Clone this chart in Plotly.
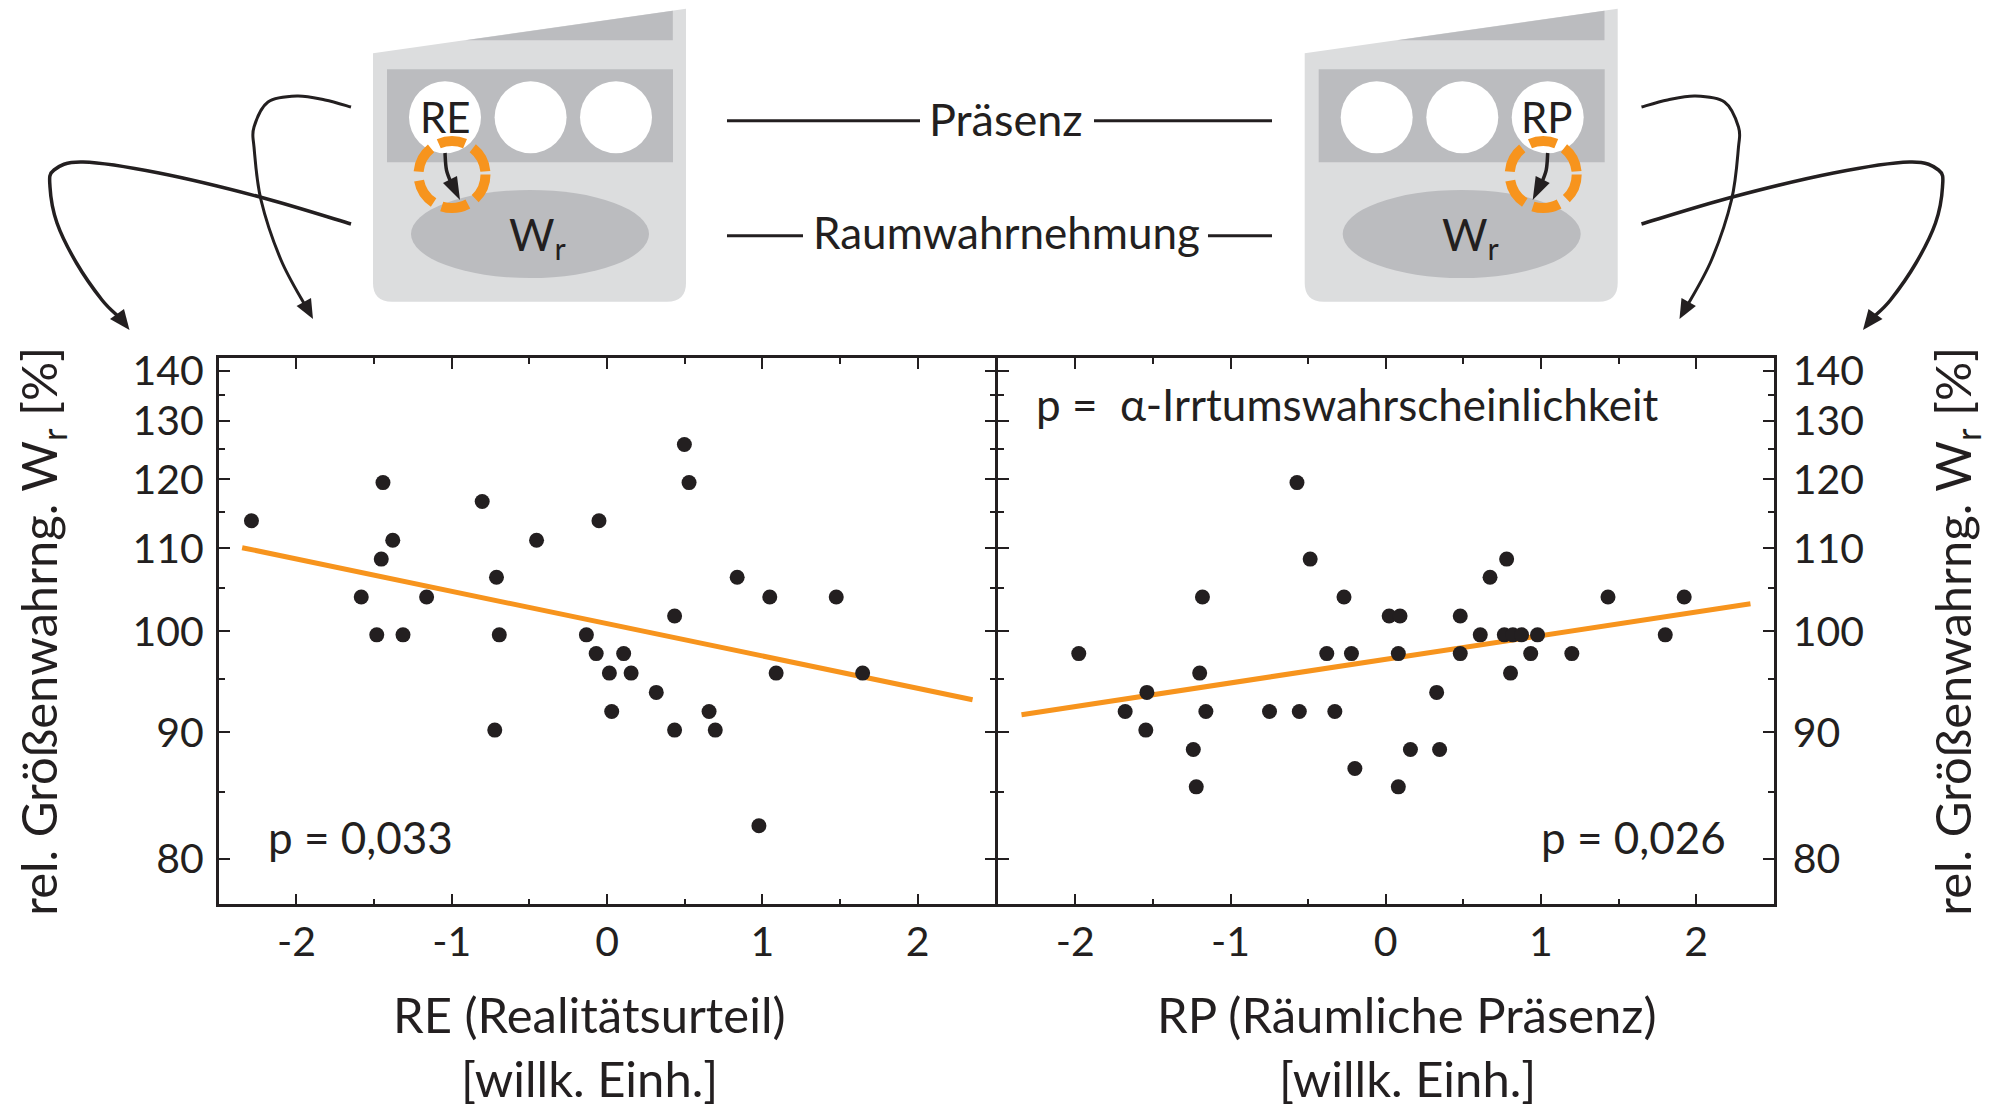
import plotly.graph_objects as go

W, H = 2004, 1106
FONT = "Lato"
INK = "#231f20"
ORANGE = "#f7941d"
LIGHT = "#dcddde"
DARK = "#bbbcbf"

re_x = [-2.29,-1.443,-1.38,-1.454,-1.583,-1.162,-1.483,-1.314,-0.804,-0.712,-0.694,-0.723,-0.454,-0.052,-0.133,-0.07,0.107,0.015,0.155,0.03,0.317,0.435,0.435,0.498,0.528,0.657,0.697,0.838,1.048,1.089,0.978,1.476,1.646]
re_w = [113.8,119.5,111.1,108.6,103.9,103.9,99.6,99.6,116.6,106.3,99.6,90.2,111.1,113.8,99.6,97.6,97.6,95.6,95.6,91.9,93.7,101.7,90.2,125.8,119.5,91.9,90.2,106.3,103.9,95.6,82.4,103.9,95.6]
rp_x = [-1.978,-1.679,-1.539,-1.546,-1.24,-1.221,-1.199,-1.181,-1.159,-0.749,-0.572,-0.557,-0.487,-0.38,-0.328,-0.269,-0.221,-0.199,0.022,0.092,0.081,0.081,0.159,0.328,0.347,0.48,0.48,0.609,0.672,0.779,0.764,0.819,0.875,0.804,0.934,0.978,1.199,1.432,1.801,1.923]
rp_w = [97.6,91.9,93.7,90.2,88.5,85.4,95.6,103.9,91.9,91.9,119.5,91.9,108.6,97.6,91.9,103.9,97.6,86.9,101.7,101.7,97.6,85.4,88.5,93.7,88.5,101.7,97.6,99.6,106.3,108.6,99.6,99.6,99.6,95.6,97.6,99.6,97.6,103.9,99.6,103.9]
re_fit_x = [-2.35, 2.354]
re_fit_w = [110.1, 93.0]
rp_fit_x = [-2.347, 2.35]
rp_fit_w = [91.6, 103.1]
y_ticks = [80, 90, 100, 110, 120, 130, 140]
y_minor = [85, 95, 105, 115, 125, 135]
x_ticks = [-2, -1, 0, 1, 2]
x_labels = ["-2", "-1", "0", "1", "2"]
x_minor = [-1.5, -0.5, 0.5, 1.5]

def inv(v):
    # the value axis of the chart is reciprocal (equal steps in 1/W)
    return [100.0 / a for a in v]

px = lambda x: x / W
py = lambda y: 1 - y / H
P = lambda x, y: f"{px(x):.5f},{py(y):.5f}"

def smooth(pts):
    d = "M" + P(*pts[0])
    n = len(pts)
    for i in range(n - 1):
        p0 = pts[max(i - 1, 0)]; p1 = pts[i]; p2 = pts[i + 1]; p3 = pts[min(i + 2, n - 1)]
        c1 = (p1[0] + (p2[0] - p0[0]) / 6, p1[1] + (p2[1] - p0[1]) / 6)
        c2 = (p2[0] - (p3[0] - p1[0]) / 6, p2[1] - (p3[1] - p1[1]) / 6)
        d += f" C{P(*c1)} {P(*c2)} {P(*p2)}"
    return d

def poly(pts):
    return "M" + " L".join(P(*p) for p in pts) + " Z"

shapes = []
def fill(path, color):
    shapes.append(dict(type="path", xref="paper", yref="paper", path=path, fillcolor=color, line=dict(width=0), layer="above"))
def stroke(path, width, color=INK):
    shapes.append(dict(type="path", xref="paper", yref="paper", path=path, line=dict(color=color, width=width), layer="above"))
def ell(cx, cy, rx, ry, color=None, line=None):
    shapes.append(dict(type="circle", xref="paper", yref="paper", x0=px(cx-rx), x1=px(cx+rx), y0=py(cy+ry), y1=py(cy-ry),
                       fillcolor=color or "rgba(0,0,0,0)", line=line or dict(width=0), layer="above"))

def device(dx, mirror_arrow):
    b = "M" + P(373+dx, 53.3) + " L" + P(686+dx, 8.7) + " L" + P(686+dx, 283) + \
        " Q" + P(686+dx, 301.7) + " " + P(667+dx, 301.7) + " L" + P(392+dx, 301.7) + \
        " Q" + P(373+dx, 301.7) + " " + P(373+dx, 283) + " Z"
    fill(b, LIGHT)
    fill(poly([(465.6+dx, 40.3), (672.8+dx, 10.7), (672.8+dx, 40.3)]), DARK)
    fill(poly([(387+dx, 69.3), (673+dx, 69.3), (673+dx, 162.3), (387+dx, 162.3)]), DARK)
    for c in (445, 530.6, 616):
        ell(c+dx, 117.3, 36, 36, "white")
    ell(530+dx, 234, 119, 44, DARK)
    cx = 445 + dx if not mirror_arrow else 616 + dx
    ox = cx + 7 if not mirror_arrow else cx - 4.5
    ell(ox, 174.5, 33.5, 33.5, None, dict(color=ORANGE, width=10, dash="27px,9px"))
    s = 1 if not mirror_arrow else -1
    ax = cx
    stroke(smooth([(ax, 153), (ax + s*1.5, 170), (ax + s*7, 185)]), 3.5)
    fill(poly([(ax + s*15, 200), (ax - s*2, 183), (ax + s*12, 176)]), INK)

device(0, False)
device(931.7, True)

curve_a = [(351,224),(260,197),(159,173),(83,162),(54,170),(50,187),(57,223),(76.5,263),(102,300),(119,317)]
curve_b = [(351,107),(325,100),(297,96),(268,102),(254,127),(254,147),(261,200),(281,260),(306,307)]
head_a = [(129.5,330),(110,319),(124,309)]
head_b = [(313,319),(296.6,306),(311,298)]
MX = 1992.5
mir = lambda pts: [(MX - x, y) for x, y in pts]
for c, wd in ((curve_a, 3.5), (curve_b, 3), (mir(curve_a), 3.5), (mir(curve_b), 3)):
    stroke(smooth(c), wd)
for h in (head_a, head_b, mir(head_a), mir(head_b)):
    fill(poly(h), INK)
for x0, x1, y in ((727,920,120.7),(1094,1272,120.7),(727,803,235.7),(1208,1272,235.7)):
    stroke("M" + P(x0, y) + " L" + P(x1, y), 3)

TICK_FS, TITLE_FS, NOTE_FS = 41, 49, 44
def note(text, x, y, anchor="center", size=NOTE_FS):
    return dict(text=text, x=px(x), y=py(y), xref="paper", yref="paper", showarrow=False,
                xanchor=anchor, yanchor="middle",
                font=dict(family=FONT, size=size, color=INK))
annotations = [
    note("RE", 445, 117, size=42), note("RP", 1547, 117, size=42),
    note("W<sub>r</sub>", 537, 237), note("W<sub>r</sub>", 1470, 237),
    note("Präsenz", 1006, 119, size=45), note("Raumwahrnehmung", 1006, 232),
    note("p = 0,033", 266, 837, "left"), note("p = 0,026", 1728, 837, "right"),
    note("p =  α-Irrtumswahrscheinlichkeit", 1034, 404, "left"),
    note("RE (Realitätsurteil)", 589, 1014, size=TITLE_FS), note("RP (Räumliche Präsenz)", 1407, 1014, size=TITLE_FS),
    note("[willk. Einh.]", 589, 1078, size=TITLE_FS), note("[willk. Einh.]", 1407, 1078, size=TITLE_FS),
]

fig = go.Figure()
def add(xs, ws, fx, fw, xa, ya):
    fig.add_trace(go.Scatter(x=fx, y=inv(fw), mode="lines", xaxis=xa, yaxis=ya, showlegend=False,
                             line=dict(color=ORANGE, width=5)))
    fig.add_trace(go.Scatter(x=xs, y=inv(ws), mode="markers", xaxis=xa, yaxis=ya, showlegend=False,
                             marker=dict(color=INK, size=15, line=dict(width=0))))
add(re_x, re_w, re_fit_x, re_fit_w, "x", "y")
add(rp_x, rp_w, rp_fit_x, rp_fit_w, "x2", "y2")
# carriers of the two overlaid minor-tick axes
for xa, ya in (("x3", "y3"), ("x4", "y4")):
    fig.add_trace(go.Scatter(x=[None], y=[None], mode="markers", xaxis=xa, yaxis=ya, showlegend=False, hoverinfo="skip"))

tickfont = dict(family=FONT, size=TICK_FS, color=INK)
titlefont = dict(family=FONT, size=TITLE_FS, color=INK)
LW = 2.5
common = dict(showgrid=False, zeroline=False, showline=True, mirror="ticks", linecolor=INK, linewidth=LW,
              ticks="inside", tickwidth=2.2, tickcolor=INK, tickmode="array", automargin=False)
def xaxis(domain, anchor):
    return dict(common, domain=domain, range=[-2.5, 2.5], anchor=anchor, ticklen=11,
                tickvals=x_ticks, ticktext=x_labels, tickfont=tickfont)
def xminor(domain, anchor, over):
    return dict(common, domain=domain, range=[-2.5, 2.5], anchor=anchor, overlaying=over, ticklen=6,
                tickvals=x_minor, showticklabels=False)
YDOM = [py(905.6-LW/2), py(356.8+LW/2)]
def yaxis(anchor, side, lab, ttl):
    return dict(common, domain=YDOM, range=[1.3, 0.7], anchor=anchor, side=side, ticklen=11,
                tickvals=inv(y_ticks), ticktext=[str(v) for v in y_ticks], tickfont=tickfont, ticklabelstandoff=lab,
                title=dict(text="rel. Größenwahrng. W<sub>r</sub> [%]", font=titlefont, standoff=ttl))
def yminor(anchor, side, over):
    return dict(common, domain=YDOM, range=[1.3, 0.7], anchor=anchor, side=side, overlaying=over, ticklen=6,
                tickvals=inv(y_minor), showticklabels=False)

D1 = [px(217.6+LW/2), px(996.5-LW/2)]
D2 = [px(996.5+LW/2), px(1775-LW/2)]
fig.update_layout(
    width=W, height=H, margin=dict(l=0, r=0, t=0, b=0), paper_bgcolor="white", plot_bgcolor="white",
    showlegend=False, shapes=shapes, annotations=annotations,
    xaxis=xaxis(D1, "y"), xaxis2=xaxis(D2, "y2"),
    xaxis3=xminor(D1, "y3", "x"), xaxis4=xminor(D2, "y4", "x2"),
    yaxis=yaxis("x", "left", 4, 60), yaxis2=yaxis("x2", "right", 8, 74),
    yaxis3=yminor("x3", "left", "y"), yaxis4=yminor("x4", "right", "y2"),
)
fig.write_html("out.html", config=dict(displayModeBar=False), post_script="document.body.style.margin='0';document.body.style.overflow='hidden';")
